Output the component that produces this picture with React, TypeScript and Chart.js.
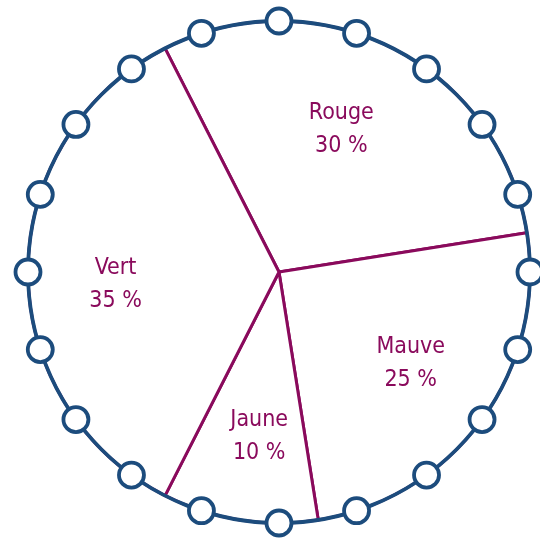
import React, { useEffect, useRef } from "react";
import { Chart, registerables } from "chart.js";

Chart.register(...registerables);

const categories = ["Rouge", "Mauve", "Jaune", "Vert"];
const percentages = [30, 25, 10, 35];
const beadCount = 20;

const PURPLE = "#8a0a5c";
const BLUE = "#1c4c7d";
const FONT = '"Liberation Sans Narrow", "DejaVu Sans Condensed", "Roboto", sans-serif';

const decorPlugin = {
  id: "decor",
  afterDatasetsDraw(chart: any) {
    const meta = chart.getDatasetMeta(0);
    const arcs = meta.data;
    if (!arcs.length) return;
    const { x, y, outerRadius } = arcs[0].getProps(["x", "y", "outerRadius"], true);
    const ctx = chart.ctx;
    ctx.save();
    // outer ring
    ctx.beginPath();
    ctx.arc(x, y, outerRadius, 0, Math.PI * 2);
    ctx.strokeStyle = BLUE;
    ctx.lineWidth = 3.8;
    ctx.stroke();
    // beads
    for (let i = 0; i < beadCount; i++) {
      const a = -Math.PI / 2 + (i * 2 * Math.PI) / beadCount;
      const bx = x + outerRadius * Math.cos(a);
      const by = y + outerRadius * Math.sin(a);
      ctx.beginPath();
      ctx.arc(bx, by, 12.5, 0, Math.PI * 2);
      ctx.fillStyle = "#ffffff";
      ctx.fill();
      ctx.lineWidth = 3.8;
      ctx.strokeStyle = BLUE;
      ctx.stroke();
    }
    // labels
    ctx.fillStyle = PURPLE;
    ctx.font = `500 23px ${FONT}`;
    ctx.textAlign = "center";
    ctx.textBaseline = "middle";
    arcs.forEach((arc: any, i: number) => {
      const p = arc.getProps(["startAngle", "endAngle"], true);
      const mid = (p.startAngle + p.endAngle) / 2 - (3 * Math.PI) / 180;
      const r = outerRadius * 0.64;
      const lx = x + r * Math.cos(mid) - 3;
      const ly = y + r * Math.sin(mid) + 4;
      ctx.fillText(categories[i], lx, ly - 16);
      ctx.fillText(`${percentages[i]} %`, lx, ly + 17);
    });
    ctx.restore();
  },
};

export default function App() {
  const ref = useRef<HTMLCanvasElement>(null);
  useEffect(() => {
    document.body.style.margin = "0";
    const chart = new Chart(ref.current!, {
      type: "pie",
      data: {
        labels: categories,
        datasets: [
          {
            data: percentages,
            backgroundColor: "#ffffff",
            borderColor: PURPLE,
            borderWidth: 3,
          },
        ],
      },
      options: {
        responsive: false,
        animation: false,
        rotation: -27,
        radius: 251,
        layout: { padding: { left: 18, right: 0, top: 6, bottom: 0 } },
        plugins: {
          legend: { display: false },
          tooltip: { enabled: false },
        },
      },
      plugins: [decorPlugin],
    });
    return () => chart.destroy();
  }, []);
  return (
    <div style={{ position: "absolute", left: 0, top: 0, width: 540, height: 538 }}>
      <canvas ref={ref} width={540} height={538} />
    </div>
  );
}
